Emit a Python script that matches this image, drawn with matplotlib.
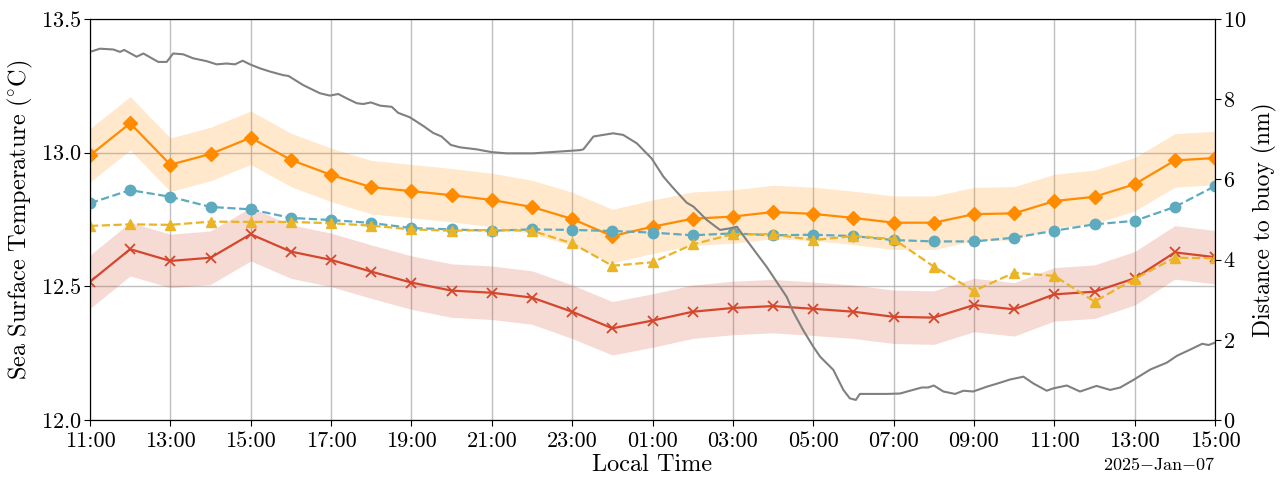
import numpy as np
import pandas as pd
import matplotlib
matplotlib.use('Agg')
import matplotlib.pyplot as plt
import matplotlib.dates as mdates

plt.rcParams['font.family'] = 'serif'
plt.rcParams['font.serif'] = ['cmr10']
plt.rcParams['mathtext.fontset'] = 'cm'
plt.rcParams['axes.formatter.use_mathtext'] = True
plt.rcParams['axes.unicode_minus'] = False

start = pd.Timestamp('2025-01-06 11:00')
times = pd.date_range(start, periods=29, freq='h')

# hourly sea surface temperature, two estimates with +/- bands, two single sources
sst_orange = [12.99, 13.11, 12.955, 12.995, 13.056, 12.973, 12.917, 12.871, 12.856, 12.841,
              12.823, 12.797, 12.752, 12.688, 12.723, 12.753, 12.761, 12.778, 12.771, 12.756,
              12.738, 12.738, 12.770, 12.773, 12.819, 12.835, 12.882, 12.971, 12.980]
sst_orange_err = 0.1
sst_red = [12.517, 12.639, 12.595, 12.607, 12.695, 12.630, 12.599, 12.555, 12.514, 12.484,
           12.476, 12.458, 12.405, 12.343, 12.372, 12.405, 12.419, 12.426, 12.416, 12.405,
           12.386, 12.383, 12.430, 12.414, 12.470, 12.480, 12.530, 12.627, 12.609]
sst_red_err = 0.1
sst_blue = [12.811, 12.860, 12.835, 12.797, 12.788, 12.756, 12.748, 12.737, 12.718, 12.713,
            12.708, 12.713, 12.711, 12.707, 12.701, 12.691, 12.698, 12.691, 12.693, 12.688,
            12.673, 12.668, 12.668, 12.682, 12.708, 12.732, 12.745, 12.797, 12.875]
sst_yellow = [12.726, 12.732, 12.730, 12.742, 12.741, 12.741, 12.736, 12.727, 12.713, 12.708,
              12.711, 12.708, 12.661, 12.577, 12.590, 12.657, 12.695, 12.695, 12.673, 12.688,
              12.677, 12.574, 12.483, 12.551, 12.539, 12.443, 12.528, 12.607, 12.605]

# ship distance to buoy (hours after start, nautical miles)
dist_hours = [0.0, 0.25, 0.58, 0.75, 0.85, 1.16, 1.33, 1.70, 1.91, 2.07, 2.32, 2.57, 2.90,
              3.15, 3.40, 3.61, 3.80, 3.98, 4.23, 4.48, 4.81, 4.94, 5.31, 5.72, 5.97, 6.18,
              6.39, 6.64, 6.80, 6.99, 7.22, 7.51, 7.67, 7.96, 8.30, 8.54, 8.75, 8.98, 9.21,
              9.62, 10.0, 10.37, 11.03, 12.2, 12.28, 12.53, 13.02, 13.27, 13.61, 13.98,
              14.27, 14.52, 14.85, 15.02, 15.35, 15.68, 15.93, 16.10, 16.34, 16.84, 17.34,
              17.50, 17.75, 18.0, 18.17, 18.50, 18.75, 18.91, 19.06, 19.16, 19.33, 19.83,
              20.16, 20.41, 20.70, 20.86, 21.0, 21.24, 21.53, 21.74, 21.98, 22.32, 22.65,
              22.90, 23.23, 23.48, 23.81, 23.98, 24.31, 24.64, 25.05, 25.39, 25.64, 25.97,
              26.39, 26.80, 27.05, 27.39, 27.68, 27.84, 28.0]
dist_nm = [9.18, 9.26, 9.24, 9.18, 9.23, 9.06, 9.14, 8.93, 8.93, 9.14, 9.12, 9.02, 8.95,
           8.87, 8.89, 8.87, 8.96, 8.87, 8.77, 8.69, 8.60, 8.58, 8.35, 8.15, 8.09, 8.13,
           8.02, 7.90, 7.88, 7.92, 7.84, 7.81, 7.66, 7.55, 7.33, 7.16, 7.07, 6.86, 6.80,
           6.75, 6.68, 6.65, 6.65, 6.73, 6.75, 7.07, 7.15, 7.11, 6.90, 6.52,
           6.07, 5.78, 5.42, 5.32, 4.99, 4.74, 4.78, 4.82, 4.49, 3.82, 3.07,
           2.70, 2.24, 1.83, 1.58, 1.25, 0.75, 0.54, 0.50, 0.65, 0.65, 0.65,
           0.66, 0.73, 0.81, 0.81, 0.86, 0.71, 0.65, 0.73, 0.71, 0.83, 0.93,
           1.01, 1.08, 0.91, 0.73, 0.79, 0.86, 0.71, 0.85, 0.75, 0.81, 1.00,
           1.26, 1.43, 1.60, 1.76, 1.90, 1.87, 1.93]
dist_times = start + pd.to_timedelta(dist_hours, unit='h')

c_orange = '#ff8c00'
c_red = '#d5472c'
c_blue = '#5eaabf'
c_yellow = '#eab425'

fig = plt.figure(figsize=(12.87, 4.79), dpi=100)
ax = fig.add_axes([0.0699, 0.1232, 0.8742, 0.8371])

orange = np.array(sst_orange)
red = np.array(sst_red)
ax.fill_between(times, orange - sst_orange_err, orange + sst_orange_err,
                color=c_orange, alpha=0.2, linewidth=0)
ax.fill_between(times, red - sst_red_err, red + sst_red_err,
                color=c_red, alpha=0.2, linewidth=0)
ax.plot(times, sst_orange, color=c_orange, marker='D', markersize=7, linewidth=1.6)
ax.plot(times, sst_red, color=c_red, marker='x', markersize=7.5, markeredgewidth=1.3, linewidth=1.6)
ax.plot(times, sst_blue, color=c_blue, marker='o', markersize=7.5, linestyle='--', linewidth=1.6)
ax.plot(times, sst_yellow, color=c_yellow, marker='^', markersize=7.5, linestyle='--', linewidth=1.6)

ax.set_ylim(12.0, 13.5)
ax.set_yticks([12.0, 12.5, 13.0, 13.5])
ax.set_xlim(times[0], times[-1])
ax.xaxis.set_major_locator(mdates.HourLocator(byhour=range(1, 24, 2)))
ax.xaxis.set_major_formatter(mdates.DateFormatter('%H:%M'))
ax.grid(True, color='#b0b0b0', linewidth=1.0, alpha=0.8)
ax.set_axisbelow(True)
ax.tick_params(labelsize=16, direction='out', length=4, pad=2)
ax.tick_params(axis='x', pad=4)
ax.set_ylabel(r'$\mathrm{Sea\ Surface\ Temperature\ (^{\circ}C)}$', fontsize=17.5)
ax.set_xlabel('Local Time', fontsize=17.5, labelpad=2)

ax2 = ax.twinx()
ax2.plot(dist_times, dist_nm, color='gray', linewidth=1.5)
ax2.set_ylim(0, 10)
ax2.set_yticks([0, 2, 4, 6, 8, 10])
ax2.tick_params(labelsize=16, direction='out', length=4, pad=2)
ax2.set_ylabel('Distance to buoy (nm)', fontsize=17)

ax.text(1.0, -0.09, r'$\mathrm{2025{-}Jan{-}07}$', transform=ax.transAxes,
        ha='right', va='top', fontsize=13)

fig.savefig('out.png', dpi=100)
